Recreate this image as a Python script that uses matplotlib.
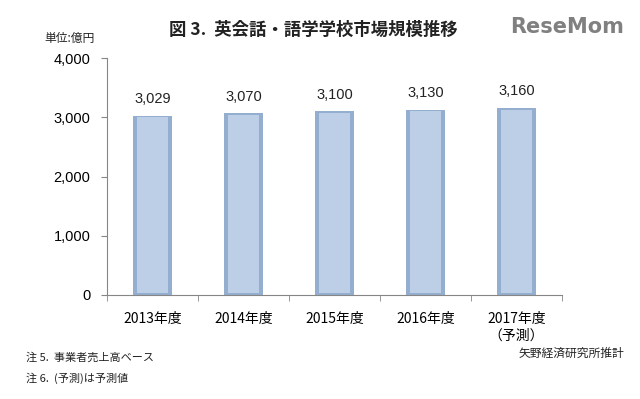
import matplotlib.pyplot as plt
from matplotlib.ticker import FuncFormatter, FixedLocator

plt.rcParams['font.family'] = ['Noto Sans CJK JP', 'DejaVu Sans']

# data
years = ['2013年度', '2014年度', '2015年度', '2016年度', '2017年度\n（予測）']
market_size = [3029, 3070, 3100, 3130, 3160]
y_ticks = [0, 1000, 2000, 3000, 4000]

fig = plt.figure(figsize=(6.4, 3.99), dpi=100)
ax = fig.add_axes([107 / 640, 1 - 295 / 399, 455 / 640, 237 / 399])

x = list(range(len(years)))
# bevelled bars: darker outer body, lighter face on top
ax.bar(x, market_size, width=0.42, color='#93AECF', zorder=2)
ax.bar(x, [v - 60 for v in market_size], bottom=30, width=0.33,
       color='#BCCFE7', zorder=3)

for xi, v in zip(x, market_size):
    ax.text(xi, v + 160, f'{v:,}', ha='center', va='bottom',
            fontsize=10.5, color='#222222', family='Liberation Sans')

ax.set_xlim(-0.5, len(years) - 0.5)
ax.set_ylim(0, 4000)
ax.set_yticks(y_ticks)
ax.yaxis.set_major_formatter(FuncFormatter(lambda v, p: f'{int(v):,}'))
ax.set_xticks(x)
ax.set_xticklabels(years, fontsize=10, linespacing=1.25)
ax.xaxis.set_minor_locator(FixedLocator([i - 0.5 for i in range(len(years) + 1)]))
ax.tick_params(axis='x', which='major', length=0, pad=12)
ax.tick_params(axis='x', which='minor', length=4, color='#868686')
ax.tick_params(axis='y', length=4, color='#868686', labelsize=10.5, pad=8)
for lbl in ax.get_yticklabels():
    lbl.set_family('Liberation Sans')

for side in ['top', 'right']:
    ax.spines[side].set_visible(False)
for side in ['left', 'bottom']:
    ax.spines[side].set_color('#868686')

fig.text(0.49, 0.925, '図 3.  英会話・語学学校市場規模推移', ha='center', va='center',
         fontsize=12.5, fontweight='bold', color='#222222')
fig.text(44 / 640, 1 - 38 / 399, '単位:億円', ha='left', va='center',
         fontsize=8.5, color='#222222')
fig.text(624 / 640, 1 - 27 / 399, 'ReseMom', ha='right', va='center',
         fontsize=15, fontweight='bold', color='#808080', family='DejaVu Sans')
fig.text(26 / 640, 1 - 357 / 399, '注 5.  事業者売上高ベース', ha='left', va='center',
         fontsize=8, color='#222222')
fig.text(26 / 640, 1 - 378 / 399, '注 6.  (予測)は予測値', ha='left', va='center',
         fontsize=8, color='#222222')
fig.text(624 / 640, 1 - 353 / 399, '矢野経済研究所推計', ha='right', va='center',
         fontsize=8.5, color='#222222')

fig.savefig('out.png', dpi=100)
